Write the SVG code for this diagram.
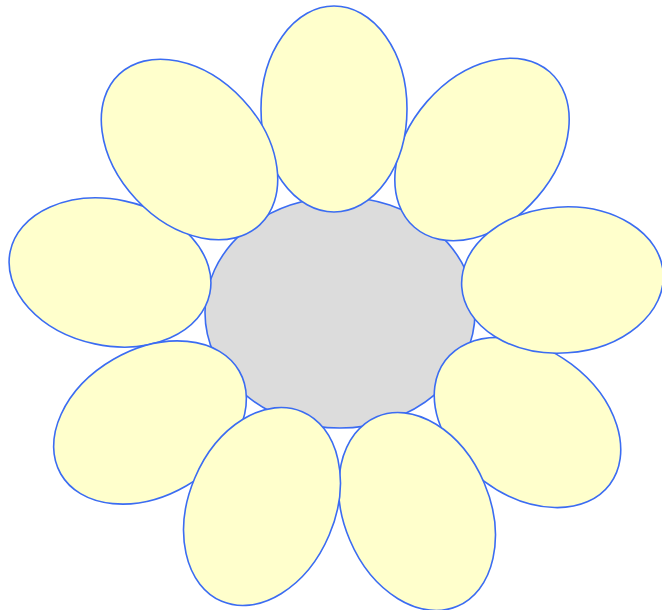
<svg xmlns="http://www.w3.org/2000/svg" width="662" height="610" viewBox="0 0 662 610">
<style>
.petal{fill:#ffffcc;stroke:#3b6cf2;stroke-width:1.6}
.core{fill:#dcdcdc;stroke:#3b6cf2;stroke-width:1.6}
</style>
<rect width="662" height="610" fill="#ffffff"/>
<g id="center"><ellipse class="core" cx="340" cy="312.5" rx="135" ry="115.5"/></g>
<g id="petal-left"><ellipse class="petal" cx="0" cy="0" rx="73" ry="102" transform="translate(110,272.5) rotate(-78)"/></g>
<g id="petal-lower-right"><ellipse class="petal" cx="0" cy="0" rx="73" ry="103" transform="translate(527.5,422.5) rotate(127)"/></g>
<g id="petal-upper-right"><ellipse class="petal" cx="0" cy="0" rx="73" ry="103" transform="translate(482,149.5) rotate(41)"/></g>
<g id="petal-top"><ellipse class="petal" cx="334" cy="109" rx="73" ry="103"/></g>
<g id="petal-upper-left"><ellipse class="petal" cx="0" cy="0" rx="73" ry="103" transform="translate(189.5,149.5) rotate(-43)"/></g>
<g id="petal-right"><ellipse class="petal" cx="0" cy="0" rx="73" ry="101" transform="translate(562.5,280) rotate(86)"/></g>
<g id="petal-lower-left"><ellipse class="petal" cx="0" cy="0" rx="73" ry="103" transform="translate(150,422.5) rotate(-120)"/></g>
<g id="petal-bottom-right"><ellipse class="petal" cx="0" cy="0" rx="73" ry="103" transform="translate(417,511.5) rotate(-23)"/></g>
<g id="petal-bottom-left"><ellipse class="petal" cx="0" cy="0" rx="73" ry="103" transform="translate(262,506.5) rotate(23)"/></g>
<g id="connectors"></g>
</svg>
